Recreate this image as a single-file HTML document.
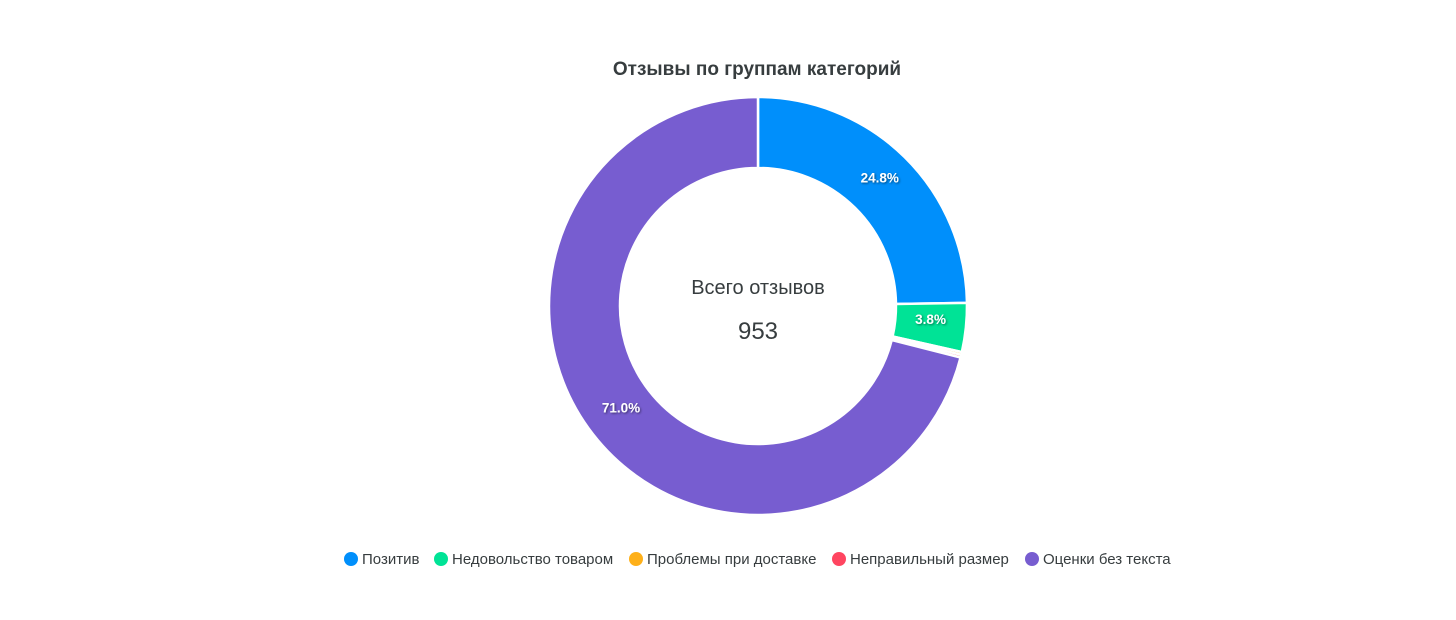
<!DOCTYPE html>
<html><head><meta charset="utf-8"><style>
body{margin:0;background:#fff;width:1456px;height:615px;overflow:hidden;font-family:"Liberation Sans",Arial,sans-serif}
</style></head><body>
<svg id="chart" width="1456" height="615" xmlns="http://www.w3.org/2000/svg">
<defs><filter id="sh" x="-20%" y="-20%" width="140%" height="140%"><feDropShadow dx="1" dy="1" stdDeviation="1" flood-color="#000" flood-opacity="0.5"/></filter></defs>
<text x="757" y="75" text-anchor="middle" font-size="19" font-weight="bold" fill="#373d3f">Отзывы по группам категорий</text>
<g id="slices"></g>
<g id="labels"></g>
<text x="758" y="294" text-anchor="middle" font-size="20" fill="#373d3f">Всего отзывов</text>
<text id="total" x="758" y="339" text-anchor="middle" font-size="24" fill="#373d3f">953</text>
<g id="legend"></g>
</svg>
<script>
const categories=["Позитив","Недовольство товаром","Проблемы при доставке","Неправильный размер","Оценки без текста"];
const values=[236,36,2,2,677];
const colors=["#008ffb","#00e396","#feb019","#ff4560","#775dd0"];
const legendX=[351,441,636,839,1032];
const cx=758,cy=306,R=209,r=138;
const NS="http://www.w3.org/2000/svg";
const total=values.reduce((a,b)=>a+b,0);
document.getElementById('total').textContent=total;
function pt(rad,a){return [cx+rad*Math.sin(a),cy-rad*Math.cos(a)];}
let acc=0;
const gs=document.getElementById('slices'),gl=document.getElementById('labels');
values.forEach((v,i)=>{
  const a0=acc/total*2*Math.PI;acc+=v;const a1=acc/total*2*Math.PI;
  const large=(a1-a0)>Math.PI?1:0;
  const [x0,y0]=pt(R,a0),[x1,y1]=pt(R,a1),[x2,y2]=pt(r,a1),[x3,y3]=pt(r,a0);
  const p=document.createElementNS(NS,'path');
  p.setAttribute('d',`M${x0},${y0}A${R},${R} 0 ${large} 1 ${x1},${y1}L${x2},${y2}A${r},${r} 0 ${large} 0 ${x3},${y3}Z`);
  p.setAttribute('fill',colors[i]);p.setAttribute('stroke','#fff');p.setAttribute('stroke-width','2.5');
  
  
  gs.appendChild(p);
  const pct=v/total*100;
  if(pct>=1){
    const [lx,ly]=pt((R+r)/2,(a0+a1)/2);
    const t=document.createElementNS(NS,'text');
    t.setAttribute('x',lx);t.setAttribute('y',ly);t.setAttribute('text-anchor','middle');
    t.setAttribute('font-size','13.5');t.setAttribute('font-weight','bold');t.setAttribute('fill','#fff');t.setAttribute('filter','url(#sh)');
    t.textContent=pct.toFixed(1)+'%';
    
    
    gl.appendChild(t);
  }
});
const lg=document.getElementById('legend');
categories.forEach((c,i)=>{
  const g=document.createElementNS(NS,'g');
  
  
  const m=document.createElementNS(NS,'circle');
  m.setAttribute('cx',legendX[i]);m.setAttribute('cy',559);m.setAttribute('r',7);m.setAttribute('fill',colors[i]);
  const t=document.createElementNS(NS,'text');
  t.setAttribute('x',legendX[i]+11);t.setAttribute('y',564);t.setAttribute('font-size','15');t.setAttribute('fill','#373d3f');
  t.textContent=c;
  g.appendChild(m);g.appendChild(t);lg.appendChild(g);
});
</script>
</body></html>
